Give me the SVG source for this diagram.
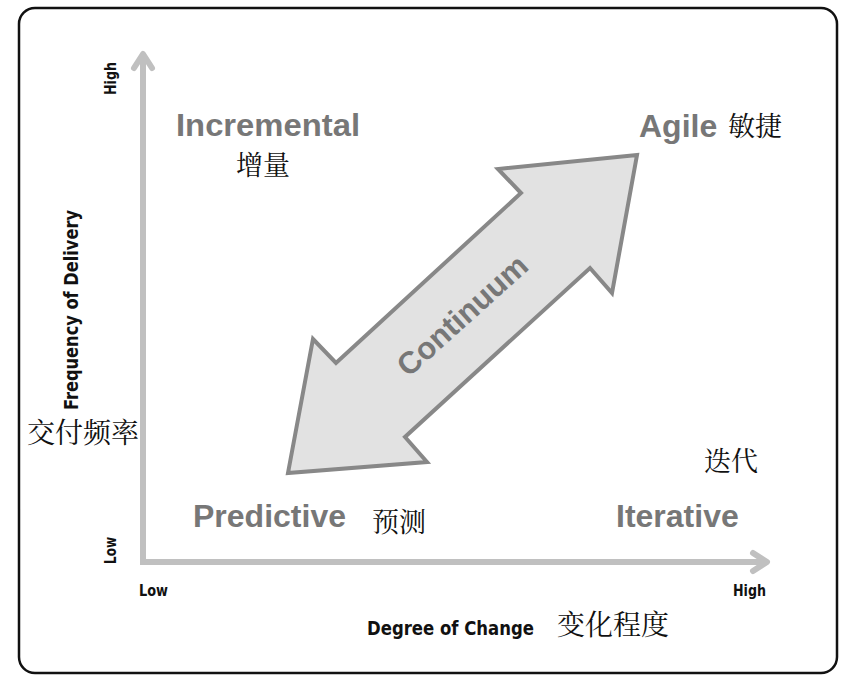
<svg xmlns="http://www.w3.org/2000/svg" width="857" height="687" viewBox="0 0 857 687">
<style>
.cat{font-family:"Liberation Sans",Arial,sans-serif;font-weight:bold;font-size:32px;fill:#777777}
.cjk{font-family:"Noto Serif CJK SC","Noto Sans CJK SC",serif;font-size:27px;fill:#111111}
.ax{font-family:"Liberation Sans Narrow","DejaVu Sans Condensed","Liberation Sans",sans-serif;font-weight:bold;fill:#111111}
.axis{fill:none;stroke:#c0c0c0;stroke-width:6;stroke-linecap:round;stroke-linejoin:round}
</style>
<rect x="0" y="0" width="857" height="687" fill="#ffffff"/>
<rect x="19" y="8" width="818" height="665" rx="16" ry="16" fill="#ffffff" stroke="#111111" stroke-width="2.5"/>
<g id="connectors">
<polyline class="axis" points="143,55 143,562 767,562" style="stroke-linejoin:miter;stroke-linecap:butt"/>
<polyline class="axis" points="134,68 143,54 152,68"/>
<polyline class="axis" points="753,553 767,562 753,571"/>
</g>
<g id="continuum">
<polygon points="637,155 498,169 521,193 336,363 313,339 288,473 427,462 405,437 590,268 612,293" fill="#e2e2e2" stroke="#888888" stroke-width="4" stroke-linejoin="miter"/>
<text class="cat" transform="translate(462,315) rotate(-42)" x="0" y="11" text-anchor="middle" style="font-size:31px">Continuum</text>
</g>
<g id="incremental">
<text class="cat" x="176" y="136" textLength="184" lengthAdjust="spacingAndGlyphs">Incremental</text>
<text class="cjk" x="236" y="175">增量</text>
</g>
<g id="agile">
<text class="cat" x="639" y="137">Agile</text>
<text class="cjk" x="728" y="136">敏捷</text>
</g>
<g id="predictive">
<text class="cat" x="193" y="527">Predictive</text>
<text class="cjk" x="372" y="532">预测</text>
</g>
<g id="iterative">
<text class="cat" x="616" y="527">Iterative</text>
<text class="cjk" x="704" y="471">迭代</text>
</g>
<g id="y-axis-labels">
<text class="ax" transform="translate(116,95) rotate(-90)" x="0" y="0" style="font-size:15px" textLength="33" lengthAdjust="spacingAndGlyphs">High</text>
<text class="ax" transform="translate(116,564) rotate(-90)" x="0" y="0" style="font-size:15px" textLength="27" lengthAdjust="spacingAndGlyphs">Low</text>
<text class="ax" transform="translate(78,410) rotate(-90)" x="0" y="0" style="font-size:20px" textLength="200" lengthAdjust="spacingAndGlyphs">Frequency of Delivery</text>
<text class="cjk" x="27" y="443" style="font-size:28px">交付频率</text>
</g>
<g id="x-axis-labels">
<text class="ax" x="139" y="596" style="font-size:15px" textLength="29" lengthAdjust="spacingAndGlyphs">Low</text>
<text class="ax" x="733" y="596" style="font-size:15px" textLength="33" lengthAdjust="spacingAndGlyphs">High</text>
<text class="ax" x="367" y="635" style="font-size:20px" textLength="167" lengthAdjust="spacingAndGlyphs">Degree of Change</text>
<text class="cjk" x="557" y="635" style="font-size:28px">变化程度</text>
</g>
</svg>
